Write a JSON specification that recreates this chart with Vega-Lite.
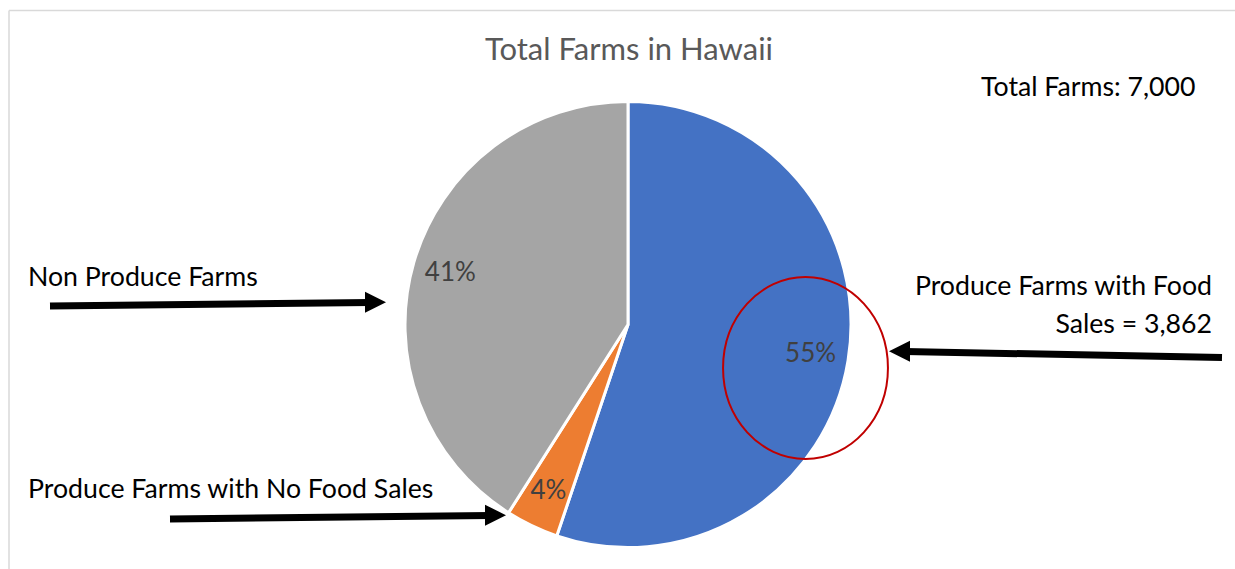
{
  "$schema": "https://vega.github.io/schema/vega-lite/v6.json",
  "width": 1235,
  "height": 569,
  "padding": 0,
  "autosize": {"type": "none"},
  "background": "white",
  "config": {"view": {"stroke": null}},
  "layer": [
    {
      "data": {"values": [
        {"x": 9, "y": 10.5, "x2": 1235, "y2": 10.5},
        {"x": 9, "y": 10.5, "x2": 9, "y2": 569}
      ]},
      "mark": {"type": "rule", "color": "#D9D9D9", "strokeWidth": 1.5},
      "encoding": {
        "x": {"field": "x", "type": "quantitative", "scale": {"domain": [0, 1235], "nice": false, "zero": false}, "axis": null},
        "y": {"field": "y", "type": "quantitative", "scale": {"domain": [0, 569], "nice": false, "zero": false, "reverse": true}, "axis": null},
        "x2": {"field": "x2"},
        "y2": {"field": "y2"}
      }
    },
    {
      "data": {"values": [
        {"category": "Produce Farms with Food Sales", "farms": 3862, "ord": 1, "label": "55%"},
        {"category": "Produce Farms with No Food Sales", "farms": 268, "ord": 2, "label": "4%"},
        {"category": "Non Produce Farms", "farms": 2870, "ord": 3, "label": "41%"}
      ]},
      "layer": [
        {
          "mark": {"type": "arc", "outerRadius": 223, "stroke": "white", "strokeWidth": 3},
          "encoding": {
            "theta": {"field": "farms", "type": "quantitative", "stack": true},
            "order": {"field": "ord", "type": "quantitative"},
            "color": {
              "field": "category", "type": "nominal",
              "scale": {"domain": ["Produce Farms with Food Sales", "Produce Farms with No Food Sales", "Non Produce Farms"], "range": ["#4472C4", "#ED7D31", "#A5A5A5"]},
              "legend": null
            },
            "x": {"datum": 628, "type": "quantitative", "scale": {"domain": [0, 1235], "nice": false, "zero": false}, "axis": null},
            "y": {"datum": 324.5, "type": "quantitative", "scale": {"domain": [0, 569], "nice": false, "zero": false, "reverse": true}, "axis": null}
          }
        },
        {
          "mark": {"type": "text", "radius": 185, "font": "Lato", "fontSize": 26, "color": "#404040", "align": "center", "baseline": "middle"},
          "encoding": {
            "theta": {"field": "farms", "type": "quantitative", "stack": true},
            "order": {"field": "ord", "type": "quantitative"},
            "text": {"field": "label"},
            "x": {"datum": 628, "type": "quantitative", "scale": {"domain": [0, 1235], "nice": false, "zero": false}, "axis": null},
            "y": {"datum": 324.5, "type": "quantitative", "scale": {"domain": [0, 569], "nice": false, "zero": false, "reverse": true}, "axis": null}
          }
        }
      ]
    },
    {
      "data": {"values": [{"x": 805.5, "y": 368}]},
      "mark": {"type": "point", "shape": "M-0.906,0A0.906,1,0,1,1,0.906,0A0.906,1,0,1,1,-0.906,0Z", "size": 33124, "filled": false, "color": "#C00000", "strokeWidth": 2, "opacity": 1},
      "encoding": {
        "x": {"field": "x", "type": "quantitative", "scale": {"domain": [0, 1235], "nice": false, "zero": false}, "axis": null},
        "y": {"field": "y", "type": "quantitative", "scale": {"domain": [0, 569], "nice": false, "zero": false, "reverse": true}, "axis": null}
      }
    },
    {
      "data": {"values": [
        {"x": 50, "y": 306, "x2": 370, "y2": 302.5},
        {"x": 170, "y": 519, "x2": 490, "y2": 515.5},
        {"x": 1222, "y": 357.5, "x2": 905, "y2": 351.5}
      ]},
      "mark": {"type": "rule", "color": "black", "strokeWidth": 7, "strokeCap": "butt"},
      "encoding": {
        "x": {"field": "x", "type": "quantitative", "scale": {"domain": [0, 1235], "nice": false, "zero": false}, "axis": null},
        "y": {"field": "y", "type": "quantitative", "scale": {"domain": [0, 569], "nice": false, "zero": false, "reverse": true}, "axis": null},
        "x2": {"field": "x2"},
        "y2": {"field": "y2"}
      }
    },
    {
      "data": {"values": [{"x": 375.5, "y": 302.3}, {"x": 495.5, "y": 515.2}]},
      "mark": {"type": "point", "shape": "M-1,-1L1,0L-1,1Z", "size": 441, "filled": true, "color": "black", "opacity": 1, "strokeWidth": 0},
      "encoding": {
        "x": {"field": "x", "type": "quantitative", "scale": {"domain": [0, 1235], "nice": false, "zero": false}, "axis": null},
        "y": {"field": "y", "type": "quantitative", "scale": {"domain": [0, 569], "nice": false, "zero": false, "reverse": true}, "axis": null}
      }
    },
    {
      "data": {"values": [{"x": 899.5, "y": 351.3}]},
      "mark": {"type": "point", "shape": "M1,-1L-1,0L1,1Z", "size": 441, "filled": true, "color": "black", "opacity": 1, "strokeWidth": 0},
      "encoding": {
        "x": {"field": "x", "type": "quantitative", "scale": {"domain": [0, 1235], "nice": false, "zero": false}, "axis": null},
        "y": {"field": "y", "type": "quantitative", "scale": {"domain": [0, 569], "nice": false, "zero": false, "reverse": true}, "axis": null}
      }
    },
    {
      "data": {"values": [{"x": 629, "y": 60, "text": "Total Farms in Hawaii"}]},
      "mark": {"type": "text", "font": "Lato", "fontSize": 31, "color": "#595959", "align": "center", "baseline": "alphabetic"},
      "encoding": {
        "x": {"field": "x", "type": "quantitative", "scale": {"domain": [0, 1235], "nice": false, "zero": false}, "axis": null},
        "y": {"field": "y", "type": "quantitative", "scale": {"domain": [0, 569], "nice": false, "zero": false, "reverse": true}, "axis": null},
        "text": {"field": "text"}
      }
    },
    {
      "data": {"values": [
        {"x": 28, "y": 286, "text": "Non Produce Farms"},
        {"x": 28, "y": 498, "text": "Produce Farms with No Food Sales"},
        {"x": 981, "y": 96, "text": "Total Farms: 7,000"}
      ]},
      "mark": {"type": "text", "font": "Lato", "fontSize": 26.7, "color": "black", "align": "left", "baseline": "alphabetic"},
      "encoding": {
        "x": {"field": "x", "type": "quantitative", "scale": {"domain": [0, 1235], "nice": false, "zero": false}, "axis": null},
        "y": {"field": "y", "type": "quantitative", "scale": {"domain": [0, 569], "nice": false, "zero": false, "reverse": true}, "axis": null},
        "text": {"field": "text"}
      }
    },
    {
      "data": {"values": [
        {"x": 1212, "y": 295, "text": "Produce Farms with Food"},
        {"x": 1212, "y": 333, "text": "Sales = 3,862"}
      ]},
      "mark": {"type": "text", "font": "Lato", "fontSize": 26.7, "color": "black", "align": "right", "baseline": "alphabetic"},
      "encoding": {
        "x": {"field": "x", "type": "quantitative", "scale": {"domain": [0, 1235], "nice": false, "zero": false}, "axis": null},
        "y": {"field": "y", "type": "quantitative", "scale": {"domain": [0, 569], "nice": false, "zero": false, "reverse": true}, "axis": null},
        "text": {"field": "text"}
      }
    }
  ]
}
